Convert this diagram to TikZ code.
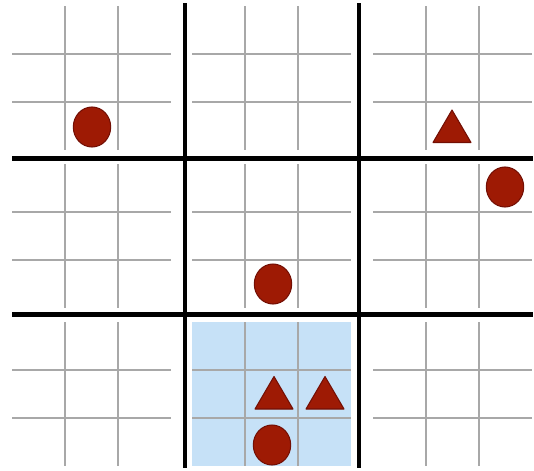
\documentclass[tikz,border=0pt]{standalone}
\usepackage{xcolor}
\usepackage{tikz}

\definecolor{piecered}{RGB}{158,26,4}
\definecolor{pieceedge}{RGB}{115,15,4}
\definecolor{cellblue}{RGB}{198,225,247}
\definecolor{gridgray}{RGB}{168,168,168}

\tikzset{
  thingrid/.style={gridgray, line width=0.85pt},
  blockline/.style={black, line width=2.3pt},
  piece/.style={fill=piecered, draw=pieceedge, line width=0.6pt},
  token/.pic={\draw[piece] (0,0) ellipse [x radius=18.7, y radius=20];},
  wedge/.pic={\draw[piece] (-19,16) -- (0,-16.5) -- (19,16) -- cycle;}
}

\begin{document}
\begin{tikzpicture}[x=0.02cm, y=-0.02cm, line cap=butt, line join=round]

    \useasboundingbox (0,0) rectangle (534,470);

    % the marked block
    \fill[cellblue] (192,322) rectangle (351,466);

    % cells inside each block
    \foreach \bx in {12,192,373} {
        \foreach \by in {6,164,322} {
            \foreach \i in {1,2} {
                \draw[thingrid] (\bx+53*\i,\by) -- ++(0,144);
                \draw[thingrid] (\bx,\by+48*\i) -- ++(159,0);
            }
        }
    }

    % block borders
    \draw[blockline] (185,3) -- (185,468);
    \draw[blockline] (359,3) -- (359,468);
    \draw[blockline] (12,158.5) -- (533,158.5);
    \draw[blockline] (12,314.5) -- (533,314.5);

    % pieces
    \pic at (92,127) {token};
    \pic at (505,187) {token};
    \pic at (273,284) {token};
    \pic at (272,445) {token};

    \pic at (452,126.5) {wedge};
    \pic at (274,393) {wedge};
    \pic at (325,393) {wedge};

\end{tikzpicture}
\end{document}
